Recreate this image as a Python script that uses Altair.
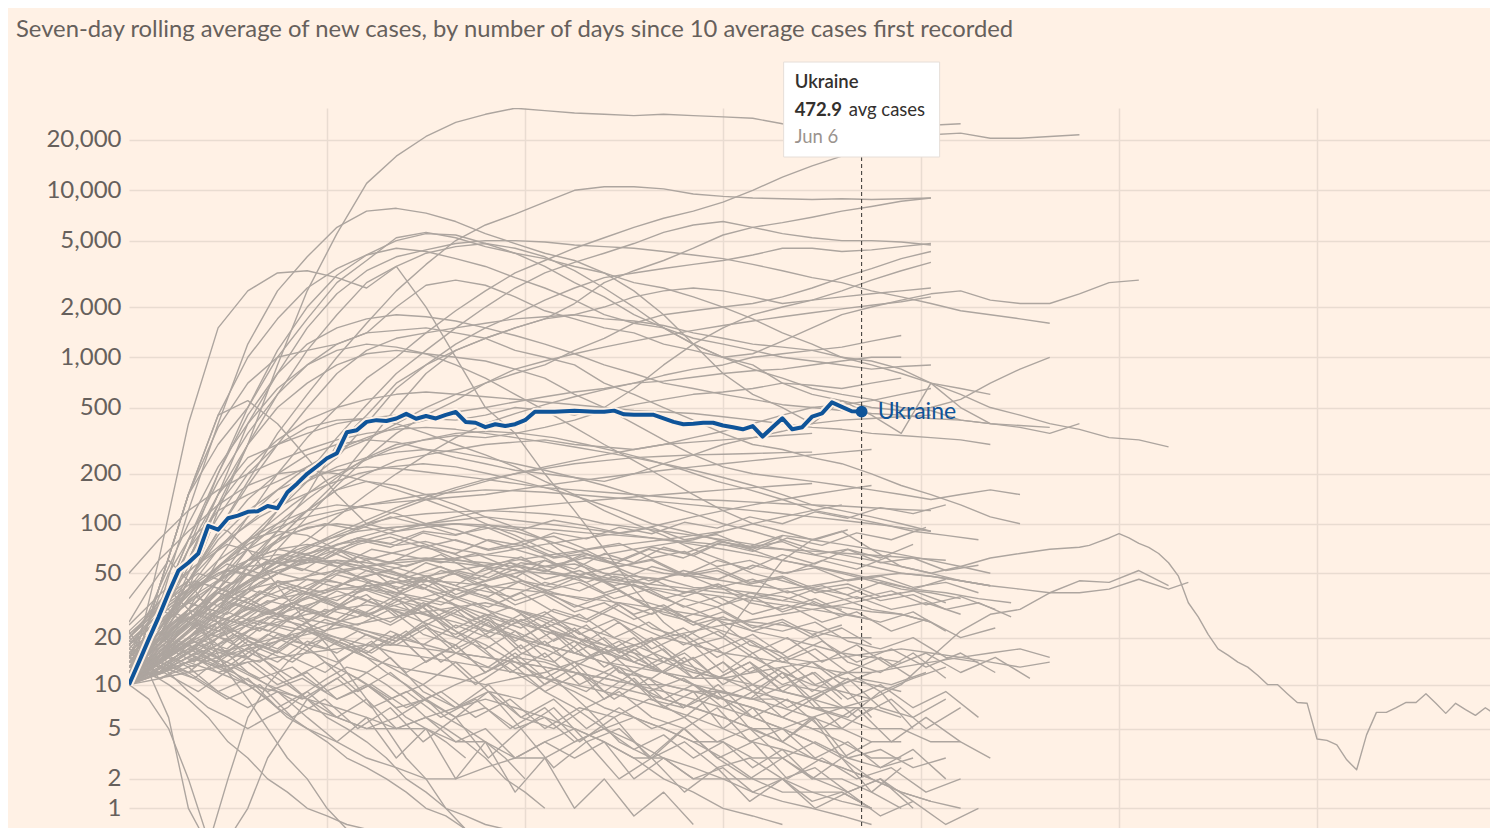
import altair as alt
import pandas as pd

TITLE = "Seven-day rolling average of new cases, by number of days since 10 average cases first recorded"
Y_TICKS = [1, 2, 5, 10, 20, 50, 100, 200, 500, 1000, 2000, 5000, 10000, 20000]
X_GRID = [20, 40, 60, 80, 100, 120]
HIGHLIGHT = "Ukraine"
HIGHLIGHT_DATE = "Jun 6"

# Ukraine, daily values from day 0
UKRAINE = [10, 14, 19.6, 27, 38, 52, 58, 66, 97, 92, 108, 112, 118, 119, 128, 124, 155, 175, 200, 222,
           248, 266, 355, 365, 410, 420, 415, 430, 458, 428, 445, 430, 452, 470, 410, 405, 381, 397, 387, 397,
           420, 472, 472, 472, 475, 479, 475, 472, 472, 479, 455, 452, 452, 452, 431, 410, 397, 400, 405, 405,
           390, 381, 370, 387, 335, 381, 431, 370, 381, 441, 461, 537, 505, 475, 472.9]

# Grey countries: values every few days from day 0 (step given in SERIES)
US = [10, 18, 40, 120, 300, 900, 2500, 5500, 11000, 16000, 21000, 25500, 28500, 31000, 30000, 29000, 28500,
      28000, 28500, 28000, 27500, 27000, 25000, 23500, 22500, 21500, 21000, 21500, 22000, 20500, 20500, 21000, 21500]
BRAZIL = [10, 15, 30, 60, 110, 200, 330, 500, 750, 1000, 1400, 1900, 2500, 3200, 3800, 4500, 5200, 6000, 6800,
          7500, 8500, 10000, 12000, 14000, 16000, 19000, 22000, 24500, 25000]
RUSSIA = [10, 20, 45, 90, 180, 350, 600, 1000, 1600, 2500, 3600, 5000, 6200, 7200, 8500, 10000, 10500, 10500,
          10200, 9500, 9200, 9000, 8900, 8800, 8900, 8800, 8900, 9000]
INDIA = [10, 12, 18, 30, 55, 90, 150, 300, 450, 700, 900, 1100, 1300, 1500, 1700, 2100, 2800, 3300, 3800, 4500,
         5400, 6000, 6400, 6900, 7500, 8000, 8600, 9000]
UK = [10, 25, 60, 150, 400, 800, 1500, 2400, 3300, 4000, 4400, 4800, 5000, 5000, 4900, 4700, 4600, 4500, 4300,
      4100, 3900, 3600, 3300, 3000, 2800, 2500, 2300, 2100, 1900, 1800, 1700, 1600]
SPAIN = [10, 30, 120, 400, 1200, 2500, 4000, 6000, 7500, 7800, 7300, 6500, 5500, 4800, 4200, 3800, 3200, 2500,
         1800, 1200, 800, 600, 500, 400, 550, 450, 350, 700, 500, 400, 380, 350, 400]
FRANCE = [10, 20, 50, 130, 300, 600, 1100, 1800, 2800, 3500, 4200, 4600, 4800, 4500, 4000, 3300, 2600, 2000,
          1500, 1200, 1000, 900, 700, 600, 550, 500, 480, 500, 560, 700, 850, 1000]
GERMANY = [10, 25, 70, 200, 500, 1100, 2000, 3100, 4100, 5000, 5500, 5400, 4800, 4200, 3500, 2800, 2300, 1800,
           1500, 1200, 1000, 850, 750, 650, 600, 560, 500, 480, 420, 400]
PERU = [10, 15, 25, 45, 80, 120, 180, 250, 400, 650, 900, 1200, 1500, 1800, 2200, 2600, 3000, 3200, 3400, 3600,
        3800, 4100, 4500, 4500, 4300, 4400, 4600, 4800]
MEXICO = [10, 12, 16, 25, 40, 70, 110, 170, 250, 350, 450, 550, 700, 850, 950, 1050, 1150, 1250, 1350, 1450,
          1550, 1650, 1750, 1850, 1950, 2050, 2150, 2300]
U9 = [10, 14, 22, 40, 70, 120, 200, 330, 520, 800, 1100, 1500, 2000, 2600, 3200, 3700, 4200, 4800, 5600, 6200,
      6500, 6000, 5500, 5200, 5000, 5000, 4900, 4700]
TURKEY = [10, 40, 150, 450, 1000, 1700, 2600, 3400, 4100, 4500, 4300, 3900, 3500, 3000, 2600, 2200, 1800, 1600,
          1500, 1300, 1200, 1100, 1000, 950, 900, 850, 880, 900]
IRAN = [10, 40, 150, 380, 700, 1000, 1100, 1200, 1400, 2000, 2700, 2900, 2700, 2300, 1900, 1700, 1500, 1400,
        1200, 1100, 1000, 1050, 1250, 1500, 1800, 2000, 2200, 2400, 2500, 2200, 2100, 2100, 2400, 2800, 2900]
ITALY = [10, 40, 150, 300, 500, 1000, 1700, 2800, 3800, 5200, 5600, 5200, 4600, 4200, 3900, 3500, 3200, 2800,
         2600, 2300, 2000, 1700, 1400, 1200, 1000, 950, 850, 700, 600, 500, 450, 400, 370, 330, 320, 290]
CANADA = [10, 20, 45, 90, 170, 300, 500, 800, 1100, 1300, 1400, 1500, 1600, 1700, 1750, 1800, 1700, 1650, 1550,
          1400, 1300, 1200, 1150, 1100, 1000, 900, 800, 700, 650, 600]
BELGIUM = [10, 30, 80, 180, 350, 600, 900, 1200, 1400, 1450, 1500, 1400, 1300, 1100, 1000, 900, 700, 600, 500,
           420, 350, 300, 280, 250, 230, 200, 170, 150, 130, 110, 100]
NETH = [10, 30, 70, 150, 300, 500, 700, 900, 1050, 1100, 1050, 1000, 950, 850, 750, 600, 500, 400, 320, 260,
        220, 200, 190, 180, 170, 160, 150, 140, 150, 160, 150]
SAUDI = [10, 15, 25, 40, 60, 90, 120, 180, 300, 500, 800, 1100, 1300, 1500, 1700, 1800, 2000, 2300, 2500, 2600,
         2500, 2300, 2100, 2200, 2500, 2900, 3300, 3700]
PAK = [10, 30, 70, 120, 150, 180, 220, 270, 320, 400, 500, 600, 700, 800, 900, 1100, 1300, 1600, 1800, 1900,
       2000, 2100, 2300, 2600, 3000, 3400, 3900, 4300]
CHILE = [10, 25, 60, 150, 250, 300, 350, 400, 430, 450, 430, 420, 450, 500, 480, 450, 500, 650, 900, 1200, 1500,
         1800, 2000, 2200, 2300, 2400, 2500, 2600]
CHINA_EARLY = [10, 60, 400, 1500, 2500, 3200, 3300, 3000, 2600, 3500, 2000, 1000, 500, 350, 200, 120, 70, 40, 25,
               18, 20, 35, 60, 80, 90, 70, 55, 50, 55, 62, 66, 70, 72]
# daily from day 97
CHINA_LATE = [74, 78, 82, 87, 82, 76, 72, 66, 58, 48, 33, 27, 21, 17, 15.5, 14, 13, 11.5, 10, 10, 8.7, 7.6, 7.5,
              4.2, 4.1, 3.8, 2.9, 2.4, 4.5, 6.5, 6.5, 7, 7.6, 7.6, 8.7, 7.5, 6.4, 7.5, 6.8, 6.2, 7.0, 6.3]
KOREA = [10, 40, 150, 450, 550, 400, 250, 150, 100, 90, 95, 100, 95, 90, 80, 60, 45, 35, 28, 25, 20, 15, 12, 10,
         9, 8, 10, 15, 22, 28, 30, 38, 45, 44, 52, 42]
R7 = [10, 14, 20, 30, 50, 80, 120, 160, 180, 170, 150, 130, 110, 95, 80, 70, 60, 55, 50, 48, 45, 42, 40, 42, 45,
      48, 50, 48, 45, 42, 40, 38, 38, 40, 46, 40]
R7_TAIL = [44]  # day 107
R8 = [13, 15, 25, 40, 60, 80, 95, 100, 95, 85, 75, 65, 55, 45, 38, 32, 28, 24, 20, 18, 16, 15, 14, 13, 12, 12,
      13, 14, 15, 14, 13, 14]
R9 = [12, 20, 30, 45, 60, 70, 75, 70, 60, 50, 40, 32, 26, 22, 18, 16, 14, 13, 12, 11, 11, 12, 13, 14, 15, 16,
      17, 16, 15, 16, 17, 15]

M1 = [11, 20, 40, 70, 110, 160, 220, 280, 330, 380, 420, 470, 500, 540, 580, 620, 650, 700, 720, 760, 800, 830,
      850, 900, 950, 1000, 1000]
M2 = [12, 25, 55, 110, 200, 300, 380, 420, 430, 400, 350, 300, 260, 220, 180, 150, 120, 100, 85, 70, 60, 50, 45,
      40, 35, 30, 28, 25]
M3 = [14, 18, 30, 45, 70, 100, 140, 190, 250, 300, 320, 340, 330, 350, 380, 420, 480, 520, 560, 600, 620, 650,
      700, 680, 650, 700, 750]
M4 = [17, 15, 22, 35, 55, 80, 120, 160, 200, 240, 260, 280, 300, 310, 320, 300, 290, 280, 300, 330, 360, 400, 450,
      500, 520, 550, 600, 650]
M5 = [15, 40, 100, 220, 400, 650, 900, 1100, 1200, 1150, 1050, 900, 750, 600, 480, 380, 300, 240, 190, 150, 120,
      100, 90, 80, 75, 70, 65, 60, 55, 50]
M6 = [12, 22, 45, 85, 140, 200, 260, 300, 320, 310, 280, 250, 230, 210, 200, 190, 180, 200, 230, 260, 300, 330,
      360, 400, 420, 430, 440, 450]
M7 = [15, 14, 20, 30, 45, 60, 80, 110, 150, 200, 260, 330, 400, 460, 520, 580, 640, 700, 780, 850, 900, 1000,
      1050, 1100, 1150, 1250, 1350]
M8 = [13, 25, 60, 130, 220, 320, 420, 500, 560, 600, 620, 600, 580, 560, 540, 520, 500, 480, 470, 460, 440, 420,
      400, 380, 370, 350, 340, 330, 320, 300]
M9 = [10, 30, 80, 200, 450, 800, 1200, 1500, 1700, 1800, 1750, 1650, 1500, 1350, 1200, 1050, 900, 800, 700, 650,
      600, 560, 520, 500, 480, 460, 450, 430, 420, 400, 390, 380]

B1 = [13, 16, 25, 38, 50, 62, 58, 75, 80, 74, 78, 70, 65, 62, 55, 57, 50, 48, 46, 41, 40, 38, 36, 32, 31, 29, 28, 25]
B2 = [12, 20, 35, 55, 80, 100, 120, 130, 125, 115, 100, 92, 80, 70, 62, 50, 44, 35, 31, 25, 22, 19, 15, 14, 11, 10, 9]
B3 = [11, 14, 20, 28, 35, 42, 48, 52, 55, 58, 60, 62, 65, 70, 75, 80, 85, 90, 100, 110, 120, 130, 140, 150, 160, 170]
B4 = [10, 18, 30, 45, 60, 70, 65, 55, 45, 35, 28, 22, 18, 14, 11, 9, 7, 6, 5, 4, 4, 3, 3, 2, 2, 1.5, 1]
B5 = [15, 25, 40, 30, 20, 12, 8, 5, 3, 2, 1, 0.5, 0.3, 0.2]
B6 = [12, 12, 15, 18, 22, 25, 28, 30, 32, 30, 28, 25, 22, 20, 18, 16, 14, 12, 10, 9, 8, 7, 6, 5, 5, 4, 4]
B7 = [20, 35, 55, 80, 110, 140, 170, 200, 220, 230, 220, 200, 180, 160, 140, 120, 100, 90, 80, 70, 60, 55, 50, 45,
      40, 38, 35, 33]
B8 = [14, 15, 22, 30, 40, 50, 60, 70, 80, 90, 100, 110, 120, 125, 130, 135, 140, 145, 150, 155, 160, 165, 170, 175]
B9 = [10, 20, 30, 25, 18, 12, 8, 6, 5, 6, 8, 10, 12, 15, 14, 12, 10, 9, 8, 7, 6, 5, 5, 6, 7, 8]
B10 = [12, 18, 25, 35, 45, 55, 65, 75, 85, 95, 100, 105, 110, 105, 100, 95, 90, 85, 80, 75, 70, 65, 60, 55, 50,
       45, 40, 38, 35]
B11 = [16, 13, 17, 22, 28, 35, 42, 50, 55, 60, 62, 60, 58, 55, 52, 48, 45, 42, 40, 38, 36, 34, 32, 30, 28, 26]
B12 = [10, 22, 40, 60, 80, 90, 85, 70, 55, 40, 30, 22, 16, 12, 9, 7, 5, 4, 3, 2.5, 2, 1.5, 1.2, 1, 0.8, 0.6]
B13 = [14, 25, 40, 60, 90, 130, 180, 230, 280, 320, 350, 360, 350, 330, 300, 270, 240, 210, 180, 160, 140, 120,
       110, 100, 90, 85, 80]
B14 = [12, 15, 20, 25, 30, 28, 26, 24, 22, 20, 18, 16, 15, 14, 13, 12, 11, 10, 10, 9, 9, 8, 8, 7, 7]
B15 = [10, 25, 50, 80, 100, 90, 70, 50, 35, 25, 18, 12, 8, 5, 3, 2, 1, 0.5, 0.3]
B16 = [11, 12, 14, 16, 18, 20, 22, 25, 28, 32, 36, 40, 45, 50, 55, 60, 65, 70, 75, 80, 90, 100, 110, 120, 130]
B17 = [18, 30, 45, 70, 100, 140, 180, 220, 250, 270, 280, 270, 250, 230, 210, 190, 170, 150, 130, 115, 100, 90,
       80, 70, 65, 60, 55, 50, 45, 42]
B18 = [15, 12, 15, 20, 26, 30, 35, 40, 42, 44, 45, 44, 42, 40, 38, 36, 34, 32, 30, 28, 26, 25, 24, 22, 20, 20]
B19 = [10, 16, 24, 34, 44, 52, 58, 60, 58, 54, 48, 42, 36, 30, 25, 20, 17, 14, 12, 10, 8, 7, 6, 5, 4, 3, 3]
B20 = [13, 11, 12, 13, 14, 15, 16, 17, 18, 18, 17, 16, 15, 14, 13, 12, 11, 10, 9, 8, 7, 6, 5, 4]
B21 = [25, 40, 60, 45, 30, 20, 15, 12, 10, 8, 6, 5, 4, 3, 2, 1.5, 1, 0.8, 0.6, 0.5, 0.4]
B22 = [12, 20, 35, 55, 75, 95, 110, 120, 130, 135, 140, 145, 150, 160, 170, 180, 190, 200, 210, 220, 230, 240,
       250, 260, 270, 280]
B23 = [17, 14, 18, 22, 26, 24, 22, 20, 18, 16, 15, 14, 13, 12, 11, 10, 9, 8, 7, 6, 5, 4, 3.5, 3, 2.5, 2, 1.5, 1.2]
B24 = [12, 20, 30, 42, 55, 68, 80, 90, 95, 98, 100, 98, 95, 92, 88, 85, 82, 78, 75, 72, 70, 68, 66, 64, 62, 60]
B25 = [10, 15, 12, 9, 7, 6, 5, 6, 7, 9, 11, 13, 12, 10, 8, 6, 5, 4, 3, 2, 1.5, 1]
B26 = [35, 60, 90, 130, 170, 200, 210, 200, 180, 160, 140, 120, 100, 85, 70, 60, 50, 42, 35, 30, 25, 22, 20, 18,
       16, 15, 14]
B27 = [50, 80, 120, 160, 200, 240, 280, 320, 350, 370, 380, 370, 350, 330, 310, 290, 270, 250, 230, 210, 190, 170,
       150, 130, 120, 110, 100, 90]
B28 = [11, 14, 20, 28, 38, 50, 65, 80, 100, 120, 140, 160, 180, 200, 220, 240, 260, 280, 300, 310, 320, 330, 340, 350]
B29 = [19, 18, 28, 40, 35, 28, 22, 18, 15, 13, 12, 11, 10, 11, 12, 14, 16, 18, 20, 22, 24, 26, 28, 30, 32, 35, 38]
B30 = [15, 25, 38, 50, 60, 65, 62, 58, 52, 46, 40, 35, 30, 26, 22, 19, 16, 14, 12, 10, 9, 8, 7, 6, 5]
B31 = [14, 12, 16, 20, 24, 28, 32, 36, 40, 44, 48, 52, 56, 60, 64, 68, 72, 76, 80, 85, 90]
B32 = [10, 22, 45, 80, 120, 160, 190, 210, 220, 215, 205, 195, 185, 175, 165, 160, 155, 150, 145, 140, 138, 135,
       132, 130, 128, 125, 122, 120]
B33 = [12, 16, 20, 18, 15, 12, 10, 8, 6, 5, 4, 3, 2.5, 2, 1.5, 1, 0.8, 0.5, 0.3]
B34 = [12, 15, 22, 32, 42, 55, 70, 85, 100, 110, 115, 118, 120, 118, 115, 110, 100, 95, 90, 85, 80, 75, 70, 65,
       60, 55, 50, 48, 45, 42]
B35 = [18, 13, 17, 21, 25, 30, 36, 42, 48, 54, 60, 58, 55, 52, 50, 48, 46, 44, 42, 40, 38, 36, 34, 32, 30]
B36 = [20, 30, 40, 50, 55, 58, 60, 58, 55, 50, 45, 40, 35, 30, 26, 22, 18, 15, 12, 10, 8, 6, 5, 4, 3, 2]
B37 = [10, 12, 10, 8, 6, 4, 3, 2, 1.5, 1, 0.8, 0.6, 0.5, 0.4]
B38 = [13, 16, 24, 34, 45, 58, 72, 88, 105, 125, 145, 165, 185, 200, 215, 230, 240, 250, 255, 260, 262, 265, 268, 270]
B39 = [18, 28, 40, 55, 70, 85, 100, 115, 130, 140, 150, 155, 160, 158, 155, 150, 145, 140, 135, 130, 125, 120, 115,
       110, 105, 100, 95, 90]
B40 = [20, 14, 19, 25, 30, 35, 38, 40, 40, 38, 35, 32, 28, 25, 22, 20, 18, 16, 14, 12, 11, 10, 9, 8, 7, 7, 6]
B41 = [10, 15, 20, 15, 10, 7, 5, 4, 3, 2.5, 2, 2, 2.5, 3, 4, 5, 4, 3, 2, 1.5, 1, 0.8, 0.6]
B42 = [16, 12, 14, 12, 10, 9, 8, 7, 6, 5, 5, 4, 4, 3, 3, 4, 5, 6, 5, 4, 3, 2, 2, 1.5, 1.5, 1]
B43 = [20, 30, 25, 18, 12, 9, 7, 6, 5, 5, 6, 7, 8, 7, 6, 5, 4, 3, 3, 2, 2, 2, 1.5, 1.5, 1.2, 1]
B44 = [12, 18, 26, 34, 40, 44, 46, 44, 40, 36, 32, 28, 24, 20, 17, 14, 12, 10, 8, 7, 6, 5, 4, 3, 2.5, 2, 1.5, 1.2, 1]
B45 = [22, 11, 13, 15, 17, 19, 21, 23, 25, 27, 29, 31, 33, 30, 27, 24, 21, 18, 15, 13, 11, 9, 8, 7, 6, 5, 5, 4, 4, 3]
B46 = [10, 8, 5, 2, 0.3, 0.3, 1, 3, 5, 8, 10, 12, 10, 8, 6, 5, 4, 3]
B47 = [15, 12, 6, 1, 0.2, 2, 6, 10, 14, 18, 20, 18, 15, 12, 10, 8, 6, 5, 4, 3, 2]

C1 = [14, 22, 30, 26, 35, 42, 38, 47, 52, 44, 50, 41, 45, 38, 34, 39, 30, 27, 31, 24, 22, 25, 19, 17, 20, 15, 14]
C2 = [11, 16, 24, 19, 28, 33, 27, 36, 30, 25, 31, 24, 20, 26, 18, 15, 19, 13, 11, 14, 9, 8, 11, 7, 6, 8]
C3 = [18, 26, 40, 52, 47, 63, 70, 58, 66, 74, 61, 55, 63, 50, 44, 52, 40, 36, 42, 33, 30, 35, 28, 25, 29, 22]
C4 = [10, 13, 11, 16, 14, 19, 17, 22, 18, 25, 21, 27, 23, 30, 26, 33, 28, 35, 31, 38, 34, 40, 37, 44, 40, 46]
C5 = [12, 19, 28, 24, 17, 21, 14, 11, 15, 9, 7, 10, 6, 5, 7, 4, 3, 5, 3, 2, 3, 2, 1.5, 2, 1]
C6 = [16, 25, 35, 48, 62, 55, 70, 82, 76, 90, 85, 98, 92, 105, 97, 88, 95, 80, 86, 72, 78, 65, 70, 58, 62, 52, 56]
C7 = [10, 15, 21, 29, 24, 33, 28, 38, 45, 40, 52, 47, 58, 54, 65, 60, 72, 66, 78, 73, 85, 80, 92]
C8 = [13, 20, 17, 26, 22, 31, 27, 24, 30, 21, 18, 25, 16, 14, 20, 12, 11, 15, 9, 8, 12, 7, 6, 9, 5]
C9 = [21, 32, 45, 39, 56, 68, 61, 75, 83, 72, 80, 69, 74, 62, 66, 55, 60, 48, 52, 43, 47, 38, 41, 34, 37, 30, 33, 27]
C10 = [10, 12, 16, 13, 18, 15, 12, 17, 13, 10, 14, 9, 8, 11, 7, 9, 6, 5, 7, 4, 5, 3, 4, 2.5, 3]
C11 = [15, 24, 36, 30, 44, 55, 49, 63, 58, 72, 66, 80, 74, 88, 81, 95, 87, 102, 94, 110, 100, 118, 108, 125, 115, 130]
C12 = [10, 18, 14, 23, 19, 27, 22, 30, 25, 33, 27, 22, 28, 19, 24, 16, 20, 14, 17, 12, 15, 10, 12, 9, 11]
C13 = [12, 17, 25, 21, 30, 26, 35, 29, 24, 31, 20, 26, 17, 22, 15, 19, 13, 16, 11, 14, 10, 12, 8, 10, 7, 9, 6]
C14 = [17, 28, 41, 57, 50, 68, 61, 80, 72, 88, 79, 70, 77, 63, 69, 55, 61, 49, 54, 44, 48, 40, 43, 36, 39, 33]
C15 = [10, 14, 19, 16, 23, 20, 26, 22, 18, 24, 16, 13, 18, 11, 9, 13, 8, 6, 9, 5, 4, 6, 3, 2.5, 3.5, 2]
C16 = [13, 22, 32, 28, 39, 34, 46, 41, 35, 43, 36, 31, 38, 29, 25, 32, 23, 20, 26, 18, 16, 21, 14, 12, 16, 11]
C17 = [10, 11, 15, 12, 17, 14, 20, 16, 22, 18, 24, 20, 26, 22, 19, 25, 17, 21, 15, 19, 14, 17, 12, 15, 11, 13]
C18 = [24, 38, 55, 75, 66, 88, 100, 92, 110, 98, 86, 94, 78, 84, 70, 76, 62, 68, 55, 60, 50, 54, 45, 48, 41, 44, 38]
C19 = [11, 16, 13, 19, 15, 11, 14, 9, 12, 8, 6, 9, 5, 7, 4, 5, 3, 4, 2.5, 3, 2, 2.5, 1.5, 2, 1.2]
C20 = [10, 14, 20, 17, 25, 22, 30, 27, 35, 31, 40, 36, 45, 41, 50, 45, 55, 49, 60, 53, 65, 57, 70, 62, 75]
C21 = [19, 30, 44, 38, 52, 46, 60, 53, 47, 55, 43, 49, 39, 44, 35, 40, 31, 36, 28, 32, 25, 29, 22, 26, 20, 23]
C22 = [10, 13, 18, 15, 21, 17, 14, 19, 12, 16, 10, 14, 9, 12, 8, 11, 7, 10, 6, 8, 5, 7, 4, 6, 4]
C23 = [14, 21, 29, 25, 34, 30, 39, 33, 28, 36, 26, 31, 23, 28, 20, 25, 18, 22, 16, 20, 14, 18, 13, 16, 12, 15, 11]
C24 = [10, 16, 24, 33, 28, 39, 34, 45, 40, 52, 46, 58, 51, 64, 57, 70, 62, 76, 68, 82, 74, 88, 80, 95]
C25 = [12, 15, 20, 26, 22, 30, 26, 35, 30, 26, 33, 24, 29, 21, 26, 19, 23, 17, 21, 15, 19, 14, 17, 13, 16, 12]
C26 = [22, 35, 50, 43, 60, 52, 70, 62, 55, 65, 50, 58, 46, 52, 42, 47, 38, 43, 35, 39, 32, 36, 30, 33, 28]
C27 = [10, 12, 9, 13, 10, 8, 11, 7, 9, 6, 8, 5, 7, 4, 6, 3, 5, 3, 4, 2, 3, 2, 2.5, 1.5, 2]
C28 = [16, 26, 38, 52, 46, 61, 55, 70, 64, 58, 66, 54, 60, 49, 55, 45, 50, 41, 46, 38, 42, 35, 39, 32, 36, 30]
C29 = [10, 15, 22, 19, 27, 24, 31, 28, 36, 32, 40, 36, 44, 39, 48, 43, 52, 46, 56, 50, 60, 53, 64]
C30 = [13, 18, 15, 21, 17, 24, 20, 16, 22, 14, 19, 12, 16, 10, 13, 9, 11, 8, 10, 7, 9, 6, 8, 5, 7]
C31 = [11, 17, 25, 35, 30, 42, 37, 49, 44, 38, 46, 35, 41, 32, 37, 29, 33, 26, 30, 24, 27, 22, 25, 20, 23, 18]
C32 = [10, 14, 12, 17, 15, 21, 18, 25, 22, 19, 24, 17, 21, 15, 19, 13, 17, 12, 15, 11, 14, 10, 13, 9, 12]
C33 = [15, 23, 33, 29, 40, 35, 46, 41, 52, 46, 58, 51, 45, 53, 42, 48, 38, 43, 35, 39, 32, 36, 29, 33, 27]
C34 = [10, 13, 17, 14, 19, 16, 22, 19, 16, 21, 14, 18, 12, 16, 11, 14, 9, 12, 8, 10, 7, 9, 6, 8, 5, 7]
C35 = [12, 19, 27, 23, 33, 28, 38, 32, 27, 35, 24, 30, 21, 26, 18, 23, 16, 20, 14, 18, 12, 16, 11, 14, 10, 12]
C36 = [10, 17, 25, 22, 31, 27, 36, 31, 42, 37, 48, 42, 54, 47, 60, 53, 66, 58, 72, 64, 78, 70, 84]
C37 = [20, 32, 26, 38, 33, 44, 38, 31, 37, 27, 32, 23, 28, 19, 24, 16, 20, 14, 17, 11, 14, 9, 12, 8, 10, 6]
C38 = [11, 14, 18, 15, 20, 17, 23, 19, 16, 21, 14, 18, 12, 15, 10, 13, 8, 11, 7, 9, 5, 7, 4, 6, 3, 4]
C39 = [13, 20, 28, 38, 33, 45, 40, 52, 46, 40, 48, 37, 43, 34, 39, 31, 36, 28, 32, 25, 29, 23, 26, 21, 24]
C40 = [10, 12, 15, 13, 17, 14, 19, 16, 21, 18, 23, 20, 17, 22, 15, 19, 13, 17, 12, 15, 10, 13, 9, 12, 8]
D1 = [10, 14, 11, 8, 10, 6, 8, 5, 7, 4, 6, 3, 5, 2.5, 4, 2, 3, 1.5, 2.5, 1.2, 2, 1, 1.5, 0.8, 1.2, 0.6, 1]
D2 = [12, 16, 13, 9, 11, 7, 9, 6, 8, 5, 6, 4, 5, 3, 4, 3, 4, 2, 3, 2, 2.5, 1.5, 2, 1.2, 1.5, 1]
D3 = [10, 13, 17, 14, 11, 13, 9, 11, 8, 10, 7, 9, 6, 8, 5, 7, 5, 6, 4, 5, 3, 4, 3, 3.5, 2.5, 3]
D4 = [15, 20, 16, 12, 14, 10, 12, 8, 10, 7, 8, 6, 7, 5, 6, 4, 5, 3.5, 4.5, 3, 4, 2.5, 3.5, 2, 3, 1.5, 2.5]
D5 = [11, 15, 12, 9, 7, 9, 6, 4, 6, 3, 5, 2, 4, 1.5, 3, 1, 2, 0.8, 1.5, 0.6]
D6 = [10, 12, 15, 12, 9, 11, 8, 10, 7, 9, 6, 8, 5, 7, 6, 8, 7, 9, 8, 10, 9, 11, 10, 12]

# (name, first day, day step, values)
SERIES = [
    ("us", 0, 3, US), ("brazil", 0, 3, BRAZIL), ("russia", 0, 3, RUSSIA), ("india", 0, 3, INDIA),
    ("uk", 0, 3, UK), ("spain", 0, 3, SPAIN), ("france", 0, 3, FRANCE), ("germany", 0, 3, GERMANY),
    ("peru", 0, 3, PERU), ("mexico", 0, 3, MEXICO), ("u9", 0, 3, U9), ("turkey", 0, 3, TURKEY),
    ("iran", 0, 3, IRAN), ("italy", 0, 3, ITALY), ("canada", 0, 3, CANADA), ("belgium", 0, 3, BELGIUM),
    ("neth", 0, 3, NETH), ("saudi", 0, 3, SAUDI), ("pak", 0, 3, PAK), ("chile", 0, 3, CHILE),
    ("china", 0, 3, CHINA_EARLY), ("china", 97, 1, CHINA_LATE), ("korea", 0, 3, KOREA),
    ("r7", 0, 3, R7), ("r7", 107, 1, R7_TAIL), ("r8", 0, 3, R8), ("r9", 0, 3, R9),
    ("m1", 0, 3, M1), ("m2", 0, 3, M2), ("m3", 0, 3, M3), ("m4", 0, 3, M4), ("m5", 0, 3, M5),
    ("m6", 0, 3, M6), ("m7", 0, 3, M7), ("m8", 0, 3, M8), ("m9", 0, 3, M9),
    ("b1", 0, 3, B1), ("b2", 0, 3, B2), ("b3", 0, 3, B3), ("b4", 0, 3, B4), ("b5", 0, 2, B5),
    ("b6", 0, 3, B6), ("b7", 0, 3.3, B7), ("b8", 0, 3, B8), ("b9", 0, 3, B9), ("b10", 0, 3, B10),
    ("b11", 0, 3, B11), ("b12", 0, 3, B12), ("b13", 0, 3.3, B13), ("b14", 0, 3, B14), ("b15", 0, 2, B15),
    ("b16", 0, 3, B16), ("b17", 0, 3, B17), ("b18", 0, 3, B18), ("b19", 0, 3, B19), ("b20", 0, 3, B20),
    ("b21", 0, 2, B21), ("b22", 0, 3, B22), ("b23", 0, 3, B23), ("b24", 0, 3.3, B24), ("b25", 0, 2, B25),
    ("b26", 0, 3, B26), ("b27", 0, 3, B27), ("b28", 0, 3, B28), ("b29", 0, 3, B29), ("b30", 0, 3, B30),
    ("b31", 0, 3, B31), ("b32", 0, 3, B32), ("b33", 0, 2, B33), ("b34", 0, 3, B34), ("b35", 0, 3, B35),
    ("b36", 0, 3, B36), ("b37", 0, 2, B37), ("b38", 0, 3, B38), ("b39", 0, 3, B39), ("b40", 0, 3, B40),
    ("b41", 0, 3, B41), ("b42", 0, 3, B42), ("b43", 0, 3, B43), ("b44", 0, 3, B44), ("b45", 0, 3, B45),
    ("b46", 0, 2, B46), ("b47", 0, 2, B47),
    ("c1", 0, 3.3, C1), ("c2", 0, 3.3, C2), ("c3", 0, 3.3, C3), ("c4", 0, 3.3, C4), ("c5", 0, 3.3, C5),
    ("c6", 0, 3.3, C6), ("c7", 0, 3.3, C7), ("c8", 0, 3.3, C8), ("c9", 0, 3.3, C9), ("c10", 0, 3.3, C10),
    ("c11", 0, 3.3, C11), ("c12", 0, 3.3, C12), ("c13", 0, 3.3, C13), ("c14", 0, 3.3, C14), ("c15", 0, 3.3, C15),
    ("c16", 0, 3.3, C16), ("c17", 0, 3.3, C17), ("c18", 0, 3.3, C18), ("c19", 0, 3.3, C19), ("c20", 0, 3.3, C20),
    ("c21", 0, 3.5, C21), ("c22", 0, 3.5, C22), ("c23", 0, 3.5, C23), ("c24", 0, 3.5, C24), ("c25", 0, 3.5, C25),
    ("c26", 0, 3.5, C26), ("c27", 0, 3.5, C27), ("c28", 0, 3.5, C28), ("c29", 0, 3.5, C29), ("c30", 0, 3.5, C30),
    ("c31", 0, 3, C31), ("c32", 0, 3, C32), ("c33", 0, 3, C33), ("c34", 0, 3, C34), ("c35", 0, 3, C35),
    ("c36", 0, 3, C36), ("c37", 0, 3, C37), ("c38", 0, 3, C38), ("c39", 0, 3, C39), ("c40", 0, 3, C40),
    ("d1", 0, 3.3, D1), ("d2", 0, 3, D2), ("d3", 0, 3.3, D3), ("d4", 0, 3, D4), ("d5", 0, 3, D5), ("d6", 0, 3.5, D6),
]

rows = []
for name, start, step, vals in SERIES:
    for i, v in enumerate(vals):
        rows.append({"country": name, "day": start + i * step, "cases": v})
grey_df = pd.DataFrame(rows)

ukr_df = pd.DataFrame({"day": list(range(len(UKRAINE))), "cases": UKRAINE})
last_df = ukr_df.tail(1).assign(name=HIGHLIGHT, date=HIGHLIGHT_DATE, unit="avg cases")
title_df = pd.DataFrame({"t": [TITLE]})

BG = "#FFF1E5"
GRID = "#E9DCD1"
GREY = "#ADA59F"
BLUE = "#0F5499"
FONT = "Lato"

W, H = 1361, 720
x_scale = alt.Scale(domain=[0, 137.47], nice=False, zero=False)
y_scale = alt.Scale(type="symlog", constant=1, domain=[0.5246, 31086], nice=False, zero=False)

x_axis = alt.Axis(values=X_GRID, labels=False, ticks=False, domain=False, grid=True,
                  gridColor=GRID, gridWidth=1.5, title=None)
y_axis = alt.Axis(values=Y_TICKS, labelExpr="format(datum.value, ',')", ticks=False, domain=False,
                  grid=True, gridColor=GRID, gridWidth=1.5, labelFontSize=24, labelColor="#66605C",
                  labelFont=FONT, labelPadding=8, labelOverlap=False, title=None)

X = alt.X("day:Q", scale=x_scale, axis=x_axis)
Y = alt.Y("cases:Q", scale=y_scale, axis=y_axis)

grey = alt.Chart(grey_df).mark_line(color=GREY, strokeWidth=1.4, clip=True, strokeJoin="round").encode(
    x=X, y=Y, detail="country:N")

rule = alt.Chart(last_df).mark_rule(color="#33302E", strokeWidth=1, strokeDash=[4, 3]).encode(
    x=X, y=alt.value(49), y2=alt.value(H))

halo = alt.Chart(ukr_df).mark_line(color=BG, strokeWidth=8, clip=True, strokeJoin="round").encode(x=X, y=Y)
blue = alt.Chart(ukr_df).mark_line(color=BLUE, strokeWidth=4, clip=True, strokeJoin="round").encode(x=X, y=Y)
dot = alt.Chart(last_df).mark_circle(color=BLUE, size=140, opacity=1).encode(x=X, y=Y)
label = alt.Chart(last_df).mark_text(align="left", baseline="middle", dx=16, fontSize=23, font=FONT,
                                     color=BLUE).encode(x=X, y=Y, text="name:N")

box = alt.Chart(last_df).mark_rect(color="white", stroke="#E6DED8", strokeWidth=1, xOffset=-78,
                                   x2Offset=78).encode(x=X, x2=alt.X2("day:Q"), y=alt.value(-46), y2=alt.value(49))
t_name = alt.Chart(last_df).mark_text(align="left", baseline="alphabetic", dx=-67, fontSize=18.5, font=FONT,
                                      fontWeight=600, color="#33302E").encode(x=X, y=alt.value(-19.7), text="name:N")
t_val = alt.Chart(last_df).mark_text(align="left", baseline="alphabetic", dx=-67, fontSize=18.5, font=FONT,
                                     fontWeight="bold", color="#33302E").encode(
    x=X, y=alt.value(7.7), text=alt.Text("cases:Q", format=".1f"))
t_unit = alt.Chart(last_df).mark_text(align="left", baseline="alphabetic", dx=-13, fontSize=18.5, font=FONT,
                                      color="#33302E").encode(x=X, y=alt.value(7.7), text="unit:N")
t_date = alt.Chart(last_df).mark_text(align="left", baseline="alphabetic", dx=-67, fontSize=18.5, font=FONT,
                                      color="#9A938E").encode(x=X, y=alt.value(34.7), text="date:N")

title = alt.Chart(title_df).mark_text(align="left", baseline="alphabetic", fontSize=23.8, font=FONT,
                                      color="#66605C").encode(x=alt.value(-113), y=alt.value(-71), text="t:N")

chart = alt.layer(grey, rule, halo, blue, dot, label, box, t_name, t_val, t_unit, t_date, title).properties(
    width=W, height=H, background=BG,
    autosize=alt.AutoSizeParams(type="none"),
    padding={"left": 121, "top": 100, "right": 0, "bottom": 0},
).configure_view(stroke=None)

chart.save("out.html", embed_options={"renderer": "svg", "actions": False})
